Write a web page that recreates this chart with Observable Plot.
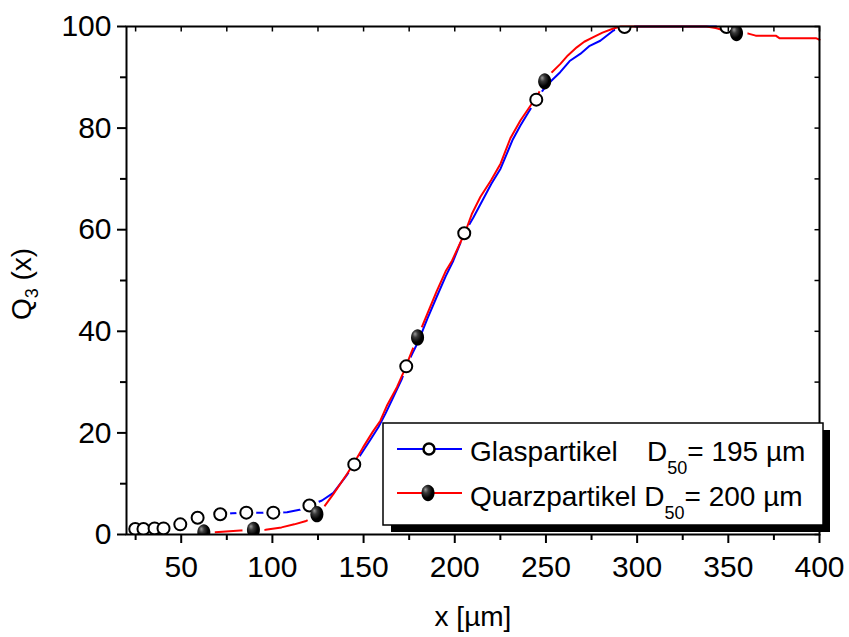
<!DOCTYPE html>
<html><head><meta charset="utf-8">
<script src="https://cdn.jsdelivr.net/npm/d3@7"></script>
<script src="https://cdn.jsdelivr.net/npm/@observablehq/plot@0.6"></script>
<style>body{margin:0;background:#fff}</style>
</head><body><div id="chart"></div>
<script>
// ---- data ----
const glasX = [24.8, 29.3, 35.4, 40.3, 49.5, 59.0, 71.4, 85.7, 100.5, 120.3, 144.9, 173.4, 205.2, 244.7, 293.1, 349.0];
const glasY = [1.1, 1.1, 1.2, 1.2, 2.0, 3.3, 4.0, 4.3, 4.3, 5.7, 13.8, 33.1, 59.3, 85.6, 99.9, 99.9];
const quarzX = [62.4, 89.6, 124.4, 179.6, 249.3, 354.5];
const quarzY = [0.4, 0.9, 4.0, 38.8, 89.2, 98.7];

const glasLineX = [71.4, 78, 85.7, 93, 100.5, 108, 115.6, 120.3, 127.2, 133.4, 140, 144.9, 149.8, 154, 158.1, 162, 166, 171.1, 173.4, 177, 180, 185, 190, 195, 199.2, 205.2, 210.2, 215.1, 220, 225.1, 231.6, 236, 240.4, 244.7, 250, 257.8, 263, 268.8, 274, 279.8, 287, 290, 293.1, 310, 349];
const glasLineY = [4.0, 4.2, 4.3, 4.3, 4.3, 4.4, 4.9, 5.7, 6.7, 8.2, 11.3, 13.8, 16.5, 18.8, 21.1, 23.8, 26.8, 30.7, 33.1, 35.8, 38.0, 42.5, 46.7, 50.8, 53.9, 59.3, 62.4, 65.7, 69.0, 72.0, 77.6, 80.5, 83.1, 85.6, 88.3, 91.0, 93.2, 94.6, 96.2, 97.2, 99.2, 99.8, 100, 100, 100];
const quarzLineX = [62.4, 68.6, 82.4, 89.6, 96.2, 105, 112, 118, 122.6, 124.4, 128, 133.5, 140.9, 145, 149.8, 155, 159.2, 163, 168.3, 172, 176.6, 179.6, 185, 190, 195, 198.5, 205.8, 209.5, 214.1, 220, 225.1, 230.5, 236, 241.5, 245.9, 249.3, 253, 257.8, 262, 266.9, 271, 276, 281, 287, 291, 300, 320, 338, 343, 349, 354.5, 361, 365, 376, 378, 398, 400];
const quarzLineY = [0.4, 0.45, 0.8, 0.9, 0.95, 1.4, 2.0, 2.6, 3.4, 4.0, 5.3, 8.0, 11.9, 14.2, 17.2, 20.2, 22.4, 25.5, 29.0, 32.0, 36.2, 38.8, 43.5, 47.8, 51.8, 53.9, 59.6, 63.2, 66.5, 69.8, 73.0, 78.0, 81.5, 84.4, 86.8, 89.2, 90.9, 92.6, 94.3, 95.9, 97.0, 97.9, 98.8, 99.6, 100, 100, 100, 100, 99.7, 99.1, 98.7, 98.6, 98.2, 98.2, 97.7, 97.7, 97.4];

const xMajor = [50, 100, 150, 200, 250, 300, 350, 400];
const xMinor = [25, 75, 125, 175, 225, 275, 325, 375];
const yMajor = [0, 20, 40, 60, 80, 100];
const yMinor = [10, 30, 50, 70, 90];

const legendLabels = [
  {name: "Glaspartikel", d50: "195 µm"},
  {name: "Quarzpartikel", d50: "200 µm"}
];

// ---- tables ----
const zip = (xs, ys) => xs.map((x, i) => ({x, y: ys[i]}));
const glasPts = zip(glasX, glasY);
const quarzPts = zip(quarzX, quarzY);
const glasLine = zip(glasLineX, glasLineY);
const quarzLine = zip(quarzLineX, quarzLineY);
const xAll = xMajor.concat(xMinor);
const yAll = yMajor.concat(yMinor);

const W = 849, H = 637;
const FONT = "'Liberation Sans', Arial, Helvetica, sans-serif";

// ellipse symbol (slightly taller than wide), drawn with cubic curves
const ellipseSym = {
  draw(ctx, size) {
    const r = Math.sqrt(size / Math.PI);
    const rx = r * 0.88, ry = r * 1.1, k = 0.5523;
    ctx.moveTo(rx, 0);
    ctx.bezierCurveTo(rx, ry * k, rx * k, ry, 0, ry);
    ctx.bezierCurveTo(-rx * k, ry, -rx, ry * k, -rx, 0);
    ctx.bezierCurveTo(-rx, -ry * k, -rx * k, -ry, 0, -ry);
    ctx.bezierCurveTo(rx * k, -ry, rx, -ry * k, rx, 0);
    ctx.closePath();
  }
};
// short inward tick symbols for the top and right frame edges
const tickDown = {draw(ctx) { ctx.moveTo(0, 0); ctx.lineTo(0, 5); }};
const tickLeft = {draw(ctx) { ctx.moveTo(0, 0); ctx.lineTo(-5, 0); }};

const plot = Plot.plot({
  width: W, height: H,
  marginLeft: 126, marginRight: 30, marginTop: 26, marginBottom: 103,
  style: {fontFamily: FONT, fontSize: "30px", color: "black", background: "white", overflow: "visible"},
  x: {domain: [20, 400]},
  y: {domain: [0, 100]},
  marks: [
    Plot.line(glasLine, {x: "x", y: "y", stroke: "#0000ff", strokeWidth: 2}),
    Plot.line(quarzLine, {x: "x", y: "y", stroke: "#ff0000", strokeWidth: 2}),
    Plot.dot(glasPts, {x: "x", y: "y", r: 6, stroke: "black", strokeWidth: 2, fill: "white", clip: true}),
    Plot.dot(quarzPts, {x: "x", y: "y", r: 7.4, symbol: ellipseSym, fill: "url(#ball)", stroke: "none", clip: true}),
    Plot.frame({stroke: "black", strokeWidth: 2}),
    Plot.dot(xAll, {x: d => d, y: () => 100, symbol: tickDown, r: 3, stroke: "black", strokeWidth: 1.5, fill: "none"}),
    Plot.dot(yAll, {x: () => 400, y: d => d, symbol: tickLeft, r: 3, stroke: "black", strokeWidth: 1.5, fill: "none"}),
    Plot.axisX({ticks: xMajor, tickSize: 9, tickPadding: 12, strokeWidth: 2, label: null, tickFormat: d => String(d)}),
    Plot.axisX({ticks: xMinor, tickSize: 6, strokeWidth: 2, label: null, fill: "none", tickFormat: () => ""}),
    Plot.axisY({ticks: yMajor, tickSize: 9, tickPadding: 6, strokeWidth: 2, label: null, tickFormat: d => String(d)}),
    Plot.axisY({ticks: yMinor, tickSize: 6, strokeWidth: 2, label: null, fill: "none", tickFormat: () => ""})
  ]
});

document.getElementById("chart").appendChild(plot);
const svg = d3.select(plot);
const xs = plot.scale("x"), ys = plot.scale("y");

// defs: glossy ball gradient + masks that break each curve near its own markers
const defs = svg.insert("defs", ":first-child");
const g = defs.append("radialGradient").attr("id", "ball")
  .attr("cx", "0.4").attr("cy", "0.38").attr("r", "0.65").attr("fx", "0.3").attr("fy", "0.28");
g.append("stop").attr("offset", "0%").attr("stop-color", "#9a9a9a");
g.append("stop").attr("offset", "30%").attr("stop-color", "#3a3a3a");
g.append("stop").attr("offset", "70%").attr("stop-color", "#000");
g.append("stop").attr("offset", "100%").attr("stop-color", "#000");

function makeMask(id, pts, r) {
  const m = defs.append("mask").attr("id", id).attr("maskUnits", "userSpaceOnUse")
    .attr("x", 0).attr("y", 0).attr("width", W).attr("height", H);
  m.append("rect").attr("width", W).attr("height", H).attr("fill", "white");
  pts.forEach(p => m.append("circle").attr("cx", xs.apply(p.x)).attr("cy", ys.apply(p.y)).attr("r", r).attr("fill", "black"));
}
makeMask("maskGlas", glasPts, 10);
makeMask("maskQuarz", quarzPts, 11);
const lineGroups = svg.selectAll('g[aria-label="line"]').nodes();
if (lineGroups[0]) d3.select(lineGroups[0]).attr("mask", "url(#maskGlas)");
if (lineGroups[1]) d3.select(lineGroups[1]).attr("mask", "url(#maskQuarz)");

// axis titles
svg.append("text").attr("transform", "translate(31,284) rotate(-90)")
  .attr("text-anchor", "middle").attr("font-size", 28).attr("fill", "black")
  .call(t => {
    t.append("tspan").text("Q");
    t.append("tspan").attr("font-size", 18).attr("dy", 7).text("3");
    t.append("tspan").attr("dy", -7).text(" (x)");
  });
svg.append("text").attr("x", 473).attr("y", 626).attr("text-anchor", "middle")
  .attr("font-size", 28).attr("fill", "black").text("x [µm]");

// legend
const lg = svg.append("g").attr("font-size", 28).attr("fill", "black").attr("text-anchor", "start");
lg.append("rect").attr("x", 391).attr("y", 430).attr("width", 439).attr("height", 102).attr("fill", "black");
lg.append("rect").attr("x", 383).attr("y", 423).attr("width", 440).attr("height", 102)
  .attr("fill", "white").attr("stroke", "black").attr("stroke-width", 1.5);
const rows = [
  {y: 449, base: 461, stroke: "#0000ff", dX: 647},
  {y: 493, base: 506, stroke: "#ff0000", dX: null}
];
rows.forEach((row, i) => {
  lg.append("line").attr("x1", 397).attr("x2", 462).attr("y1", row.y).attr("y2", row.y)
    .attr("stroke", row.stroke).attr("stroke-width", 2);
  if (i === 0) {
    lg.append("circle").attr("cx", 429).attr("cy", row.y).attr("r", 5.5)
      .attr("fill", "white").attr("stroke", "black").attr("stroke-width", 2.5);
  } else {
    const p = d3.path(); ellipseSym.draw(p, Math.PI * 7.4 * 7.4);
    lg.append("path").attr("d", p.toString()).attr("transform", `translate(428,${row.y})`).attr("fill", "url(#ball)");
  }
  const t = lg.append("text").attr("x", 470).attr("y", row.base).attr("text-anchor", "start");
  t.append("tspan").text(legendLabels[i].name + (row.dX ? "" : " "));
  const d = t.append("tspan").text("D");
  if (row.dX) d.attr("x", row.dX);
  t.append("tspan").attr("font-size", 18).attr("dy", 13).text("50");
  t.append("tspan").attr("dy", -13).text("= " + legendLabels[i].d50);
});
</script>
</body></html>
